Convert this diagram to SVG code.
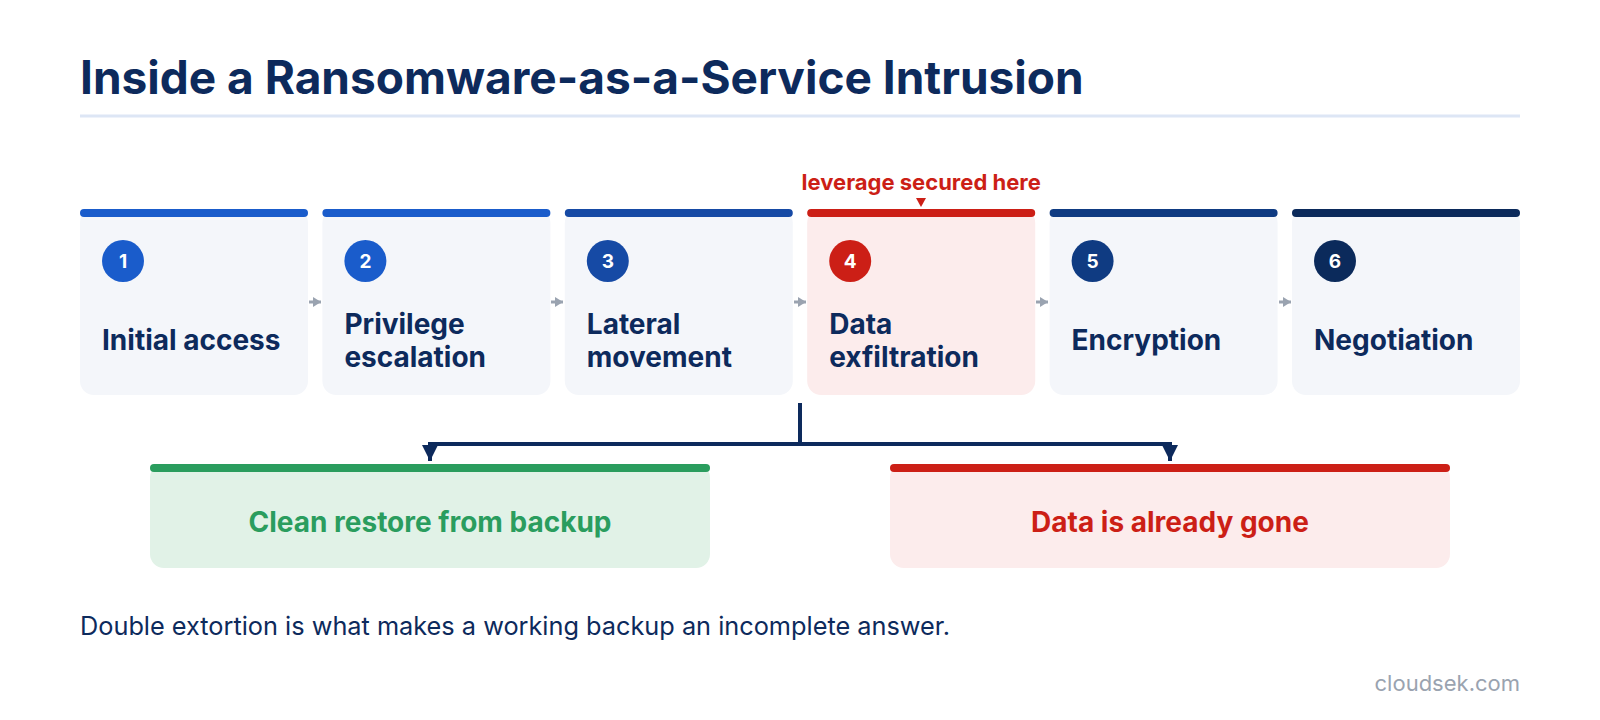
<svg xmlns="http://www.w3.org/2000/svg" width="1600" height="720" viewBox="0 0 1600 720">
  <defs>
    <style>
      text { font-family: Inter, "Noto Sans", "Liberation Sans", sans-serif; }
      .title { font-size: 46px; font-weight: 700; fill: #0d2a5c; }
      .card { fill: #f4f6fa; }
      .card-hot { fill: #fcecec; }
      .label { font-size: 28px; font-weight: 700; fill: #0d2a5c; }
      .num { font-size: 19px; font-weight: 700; fill: #ffffff; text-anchor: middle; }
      .conn { fill: none; stroke: #0d2a5c; stroke-width: 4; }
      .step { fill: none; stroke: #9aa3b0; stroke-width: 3; }
      .outcome { font-size: 28px; font-weight: 700; text-anchor: middle; }
    </style>
    <marker id="stepArrow" viewBox="0 0 8 10" refX="8" refY="5" markerWidth="8" markerHeight="10" markerUnits="userSpaceOnUse" orient="auto">
      <path d="M0,0 L8,5 L0,10 Z" fill="#9aa3b0"/>
    </marker>
    <marker id="branchArrow" viewBox="0 0 16 16" refX="16" refY="8" markerWidth="16" markerHeight="16" markerUnits="userSpaceOnUse" orient="auto">
      <path d="M0,0 L16,8 L0,16 Z" fill="#0d2a5c"/>
    </marker>
  </defs>
  <rect width="1600" height="720" fill="#ffffff"/>

  <g id="header">
    <text class="title" x="80" y="94">Inside a Ransomware-as-a-Service Intrusion</text>
    <line x1="80" y1="116" x2="1520" y2="116" stroke="#dde6f5" stroke-width="3"/>
  </g>

  <g id="connectors">
    <line class="step" x1="309" y1="302" x2="321" y2="302" marker-end="url(#stepArrow)"/>
    <line class="step" x1="551" y1="302" x2="563" y2="302" marker-end="url(#stepArrow)"/>
    <line class="step" x1="794" y1="302" x2="806" y2="302" marker-end="url(#stepArrow)"/>
    <line class="step" x1="1036" y1="302" x2="1048" y2="302" marker-end="url(#stepArrow)"/>
    <line class="step" x1="1279" y1="302" x2="1291" y2="302" marker-end="url(#stepArrow)"/>
    <path class="conn" d="M800,403 V444 H430 V461" marker-end="url(#branchArrow)"/>
    <path class="conn" d="M800,444 H1170 V461" marker-end="url(#branchArrow)"/>
  </g>

  <g id="step1">
    <rect class="card" x="80" y="209" width="228" height="186" rx="14"/>
    <rect x="80" y="209" width="228" height="8" rx="4" fill="#1a5ccb"/>
    <circle cx="123" cy="261" r="21" fill="#1a5ccb"/>
    <text class="num" x="123" y="268">1</text>
    <text class="label" x="102" y="350">Initial access</text>
  </g>
  <g id="step2">
    <rect class="card" x="322.4" y="209" width="228" height="186" rx="14"/>
    <rect x="322.4" y="209" width="228" height="8" rx="4" fill="#1a5ccb"/>
    <circle cx="365.4" cy="261" r="21" fill="#1a5ccb"/>
    <text class="num" x="365.4" y="268">2</text>
    <text class="label" x="344.4" y="334">Privilege</text>
    <text class="label" x="344.4" y="367">escalation</text>
  </g>
  <g id="step3">
    <rect class="card" x="564.8" y="209" width="228" height="186" rx="14"/>
    <rect x="564.8" y="209" width="228" height="8" rx="4" fill="#164aa5"/>
    <circle cx="607.8" cy="261" r="21" fill="#164aa5"/>
    <text class="num" x="607.8" y="268">3</text>
    <text class="label" x="586.8" y="334">Lateral</text>
    <text class="label" x="586.8" y="367">movement</text>
  </g>
  <g id="step4">
    <rect class="card-hot" x="807.2" y="209" width="228" height="186" rx="14"/>
    <rect x="807.2" y="209" width="228" height="8" rx="4" fill="#cc1f16"/>
    <circle cx="850.2" cy="261" r="21" fill="#cc1f16"/>
    <text class="num" x="850.2" y="268">4</text>
    <text class="label" x="829.2" y="334">Data</text>
    <text class="label" x="829.2" y="367">exfiltration</text>
  </g>
  <g id="callout">
    <text x="921.2" y="190" font-size="22" font-weight="700" fill="#cc1f16" text-anchor="middle">leverage secured here</text>
    <path d="M916,198 L926,198 L921,207 Z" fill="#cc1f16"/>
  </g>
  <g id="step5">
    <rect class="card" x="1049.6" y="209" width="228" height="186" rx="14"/>
    <rect x="1049.6" y="209" width="228" height="8" rx="4" fill="#0f3b82"/>
    <circle cx="1092.6" cy="261" r="21" fill="#0f3b82"/>
    <text class="num" x="1092.6" y="268">5</text>
    <text class="label" x="1071.6" y="350">Encryption</text>
  </g>
  <g id="step6">
    <rect class="card" x="1292" y="209" width="228" height="186" rx="14"/>
    <rect x="1292" y="209" width="228" height="8" rx="4" fill="#0b2a5b"/>
    <circle cx="1335" cy="261" r="21" fill="#0b2a5b"/>
    <text class="num" x="1335" y="268">6</text>
    <text class="label" x="1314" y="350">Negotiation</text>
  </g>

  <g id="outcome-restore">
    <rect x="150" y="464" width="560" height="104" rx="14" fill="#e1f2e7"/>
    <rect x="150" y="464" width="560" height="8" rx="4" fill="#2a9d5e"/>
    <text class="outcome" x="430" y="532" fill="#2a9d5e">Clean restore from backup</text>
  </g>
  <g id="outcome-gone">
    <rect x="890" y="464" width="560" height="104" rx="14" fill="#fcecec"/>
    <rect x="890" y="464" width="560" height="8" rx="4" fill="#cc1f16"/>
    <text class="outcome" x="1170" y="532" fill="#cc1f16">Data is already gone</text>
  </g>

  <g id="footer">
    <text x="80" y="635" font-size="25.3" fill="#0d2a5c">Double extortion is what makes a working backup an incomplete answer.</text>
    <text x="1520" y="691" font-size="22" fill="#9aa3b0" text-anchor="end">cloudsek.com</text>
  </g>
</svg>
